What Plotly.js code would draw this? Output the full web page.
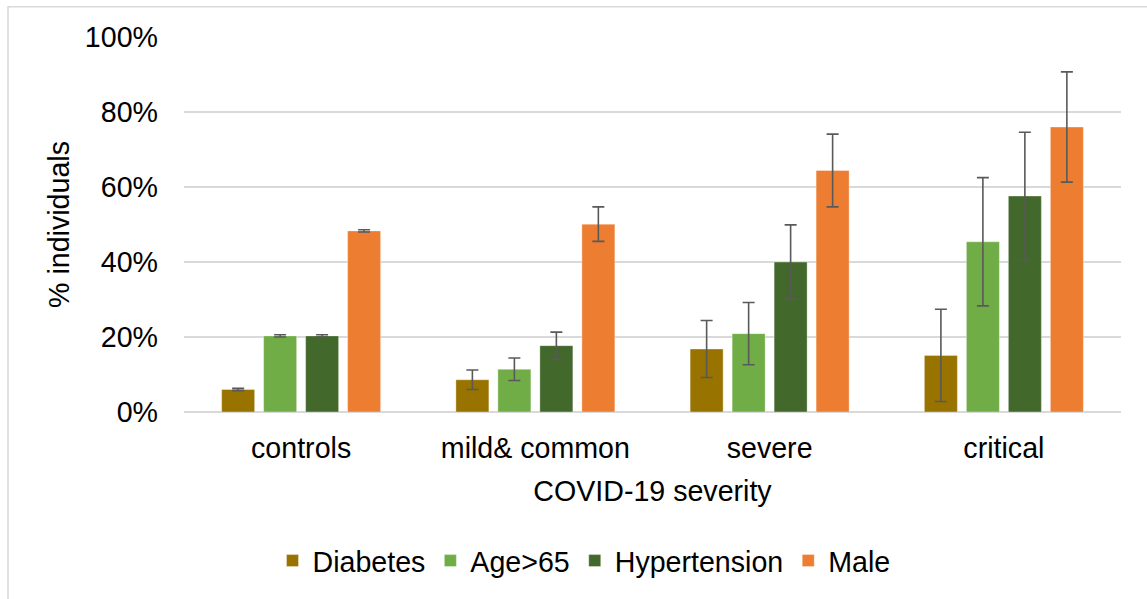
<!DOCTYPE html>
<html>
<head>
<meta charset="utf-8">
<script src="https://cdn.plot.ly/plotly-3.0.1.min.js"></script>
<style>html,body{margin:0;padding:0;background:#fff;}#chart{width:1147px;height:599px;}</style>
</head>
<body>
<div id="chart"></div>
<script>
const categories = ["controls", "mild& common", "severe", "critical"];
const seriesNames = ["Diabetes", "Age>65", "Hypertension", "Male"];
const diabetes = [0.060, 0.086, 0.168, 0.151];
const diabetesErr = [0.003, 0.026, 0.076, 0.123];
const age65 = [0.203, 0.114, 0.209, 0.454];
const age65Err = [0.003, 0.030, 0.083, 0.171];
const hypertension = [0.203, 0.177, 0.400, 0.576];
const hypertensionErr = [0.003, 0.036, 0.099, 0.170];
const male = [0.483, 0.501, 0.644, 0.760];
const maleErr = [0.003, 0.046, 0.097, 0.147];
const yTickVals = [0, 0.2, 0.4, 0.6, 0.8, 1.0];
const yTickText = ["0%", "20%", "40%", "60%", "80%", "100%"];
const colors = ["#997300", "#70AD47", "#43682B", "#ED7D31"];

const values = [diabetes, age65, hypertension, male];
const errs = [diabetesErr, age65Err, hypertensionErr, maleErr];
const FONT = "Liberation Sans, Arial, sans-serif";
const FS = 28.6;

const data = seriesNames.map((name, i) => ({
  type: "bar",
  name: name,
  x: categories,
  y: values[i],
  marker: {color: colors[i], line: {color: "rgba(255,255,255,0.35)", width: 1}},
  error_y: {type: "data", array: errs[i], visible: true, color: "#595959", thickness: 1.6, width: 6},
  hoverinfo: "none"
}));

const layout = {
  width: 1147, height: 599,
  margin: {l: 184, r: 26, t: 37, b: 187, pad: 0},
  paper_bgcolor: "#ffffff", plot_bgcolor: "#ffffff",
  font: {family: FONT, size: FS, color: "#000000"},
  barmode: "group",
  bargap: 0.283,
  bargroupgap: 0.214,
  showlegend: true,
  legend: {orientation: "h", x: 584 / 1147, xanchor: "center", xref: "container", y: 38 / 599, yref: "container", yanchor: "middle",
           font: {family: FONT, size: FS, color: "#000"}, itemwidth: 30, traceorder: "normal"},
  xaxis: {
    type: "category", showgrid: false, showline: false, zeroline: false, ticks: "",
    tickfont: {family: FONT, size: FS, color: "#000"}, ticklabelstandoff: 16,
    title: {text: "COVID-19 severity", font: {family: FONT, size: FS, color: "#000"}, standoff: 18}
  },
  yaxis: {
    range: [0, 1.0], tickvals: yTickVals, ticktext: yTickText,
    showgrid: true, gridcolor: "#d9d9d9", gridwidth: 1.2,
    zeroline: true, zerolinecolor: "#d9d9d9", zerolinewidth: 1.5,
    showline: false, ticks: "", ticklabelstandoff: 25,
    tickfont: {family: FONT, size: FS, color: "#000"},
    title: {text: "% individuals", font: {family: FONT, size: FS, color: "#000"}, standoff: 6}
  },
  shapes: [{
    type: "rect", xref: "paper", yref: "paper", layer: "below",
    x0: (8 - 184) / 937, x1: 1.05, y0: -0.6, y1: (411.7 - 7) / 374.4,
    line: {color: "#d9d9d9", width: 1.5}, fillcolor: "rgba(0,0,0,0)"
  }]
};

Plotly.newPlot("chart", data, layout, {staticPlot: true, displayModeBar: false});
</script>
</body>
</html>
